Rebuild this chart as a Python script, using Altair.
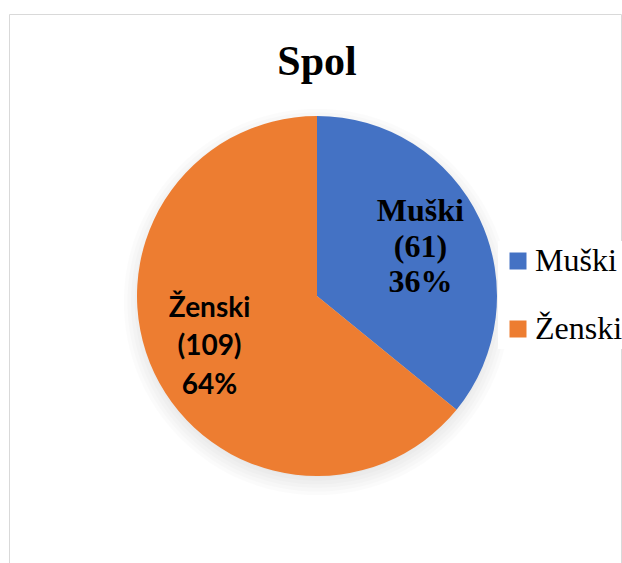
import math
import altair as alt
import pandas as pd

TITLE = "Spol"
CATEGORIES = ["Muški", "Ženski"]
COUNTS = [61, 109]
ORDER = [0, 1]
COLORS = ["#4472C4", "#ED7D31"]

W, H = 622, 563
CX, CY, R = 317, 296, 180

df = pd.DataFrame({"spol": CATEGORIES, "broj": COUNTS, "red": ORDER})
one = alt.Data(values=[{}])

frame = alt.Chart(one).mark_rect(fill="white", stroke="#d9d9d9", strokeWidth=1).encode(
    x=alt.value(9.5), y=alt.value(14.5), x2=alt.value(621.5), y2=alt.value(620)
)

shadows = []
for k in range(10):
    r = 182 + 4 * k
    shadows.append(
        alt.Chart(one).mark_circle(color="black", opacity=0.014, strokeWidth=0).encode(
            x=alt.value(CX), y=alt.value(CY + 6), size=alt.value(math.pi * r * r)
        )
    )

pie = alt.Chart(df).mark_arc(outerRadius=R).encode(
    theta=alt.Theta("broj:Q", stack=True),
    order=alt.Order("red:Q"),
    x=alt.value(CX),
    y=alt.value(CY),
    color=alt.Color(
        "spol:N",
        scale=alt.Scale(domain=CATEGORIES, range=COLORS),
        legend=alt.Legend(
            orient="none", legendX=498, legendY=241, title=None,
            symbolType="square", symbolSize=289, symbolStrokeWidth=0, symbolOpacity=1,
            labelFont="Liberation Serif", labelFontSize=32, labelColor="black",
            labelOffset=1, rowPadding=36, fillColor="white", padding=4,
        ),
    ),
)


def label_layer(cat, radius, font, size, line_h):
    return (
        alt.Chart(df)
        .transform_joinaggregate(total="sum(broj)")
        .transform_window(cum="sum(broj)", sort=[alt.SortField("red")], frame=[None, 0])
        .transform_calculate(
            mid="(datum.cum - datum.broj/2)/datum.total*2*PI",
            label="datum.spol + '\\n(' + datum.broj + ')\\n' + format(datum.broj/datum.total, '.0%')",
        )
        .transform_filter(alt.datum.spol == cat)
        .transform_calculate(
            px=f"{CX} + {radius}*sin(datum.mid)",
            py=f"{CY} - {radius}*cos(datum.mid)",
        )
        .mark_text(font=font, fontSize=size, fontWeight="bold", color="black",
                   lineBreak="\n", lineHeight=line_h, align="center", baseline="middle",
                   dy=-line_h)
        .encode(
            x=alt.X("px:Q", scale=None, axis=None),
            y=alt.Y("py:Q", scale=None, axis=None),
            text="label:N",
        )
    )


lab_m = label_layer("Muški", 114.5, "Liberation Serif", 32, 35.5)
lab_z = label_layer("Ženski", 119, "Lato", 28, 38.5)

title = alt.Chart(one).mark_text(
    text=TITLE, font="Liberation Serif", fontSize=42, fontWeight="bold",
    color="black", align="center", baseline="alphabetic"
).encode(x=alt.value(CX), y=alt.value(75))

chart = (
    alt.layer(frame, *shadows, pie, lab_m, lab_z, title)
    .properties(width=W, height=H, autosize=alt.AutoSizeParams(type="none"), padding=0, background="white")
    .configure_view(stroke=None)
)

chart.save("out.html", embed_options={"renderer": "svg", "actions": False})
